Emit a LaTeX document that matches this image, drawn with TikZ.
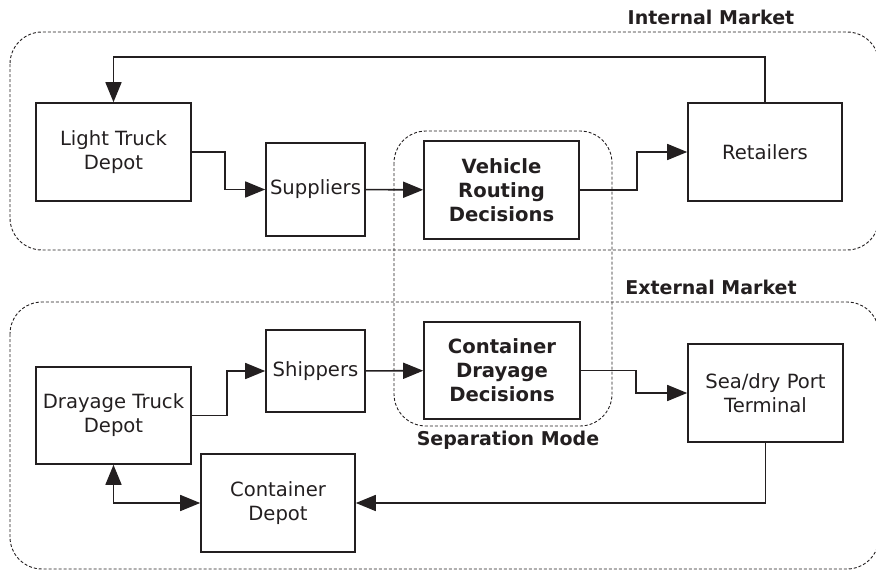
\documentclass[tikz,border=0pt]{standalone}
\usepackage{fontspec}
\setmainfont{DejaVu Sans}
\usetikzlibrary{arrows.meta}
\definecolor{ink}{HTML}{231F20}

\begin{document}
\begin{tikzpicture}[x=1pt,y=-1pt,
    box/.style={draw=ink,line width=1.6pt,align=center,text=ink,inner sep=0pt,
      font=\fontsize{19.6}{24}\selectfont},
    decision/.style={box,font=\fontsize{19.6}{24}\selectfont\bfseries},
    area/.style={draw=ink,line width=0.9pt,dash pattern=on 3pt off 2pt,rounded corners=32pt},
    arealabel/.style={text=ink,font=\fontsize{19}{22}\selectfont\bfseries},
    flow/.style={draw=ink,line width=1.6pt,-{Triangle[length=20pt,width=16pt]}}]
  \useasboundingbox (0,0) rectangle (876,571);

  % market areas and the separation mode
  \draw[area] (10,32) rectangle (879,250);
  \draw[area] (10,302) rectangle (879,569);
  \draw[area] (394,131) rectangle (612,426);
  \node[arealabel] (internal) at (711,17) {Internal Market};
  \node[arealabel] (external) at (711,287) {External Market};
  \node[arealabel] (separation) at (508,440) {Separation Mode};

  % internal market
  \node[box,minimum width=155pt,minimum height=98pt] (lightdepot) at (113.5,152) {Light Truck\\Depot};
  \node[box,minimum width=99pt,minimum height=93pt] (suppliers) at (315.5,189.5) {Suppliers};
  \node[decision,minimum width=155pt,minimum height=98pt] (routing) at (501.5,190) {Vehicle\\Routing\\Decisions};
  \node[box,minimum width=154pt,minimum height=98pt] (retailers) at (765,152) {Retailers};

  % external market
  \node[box,minimum width=155pt,minimum height=97pt] (drayagedepot) at (113.5,415.5) {Drayage Truck\\Depot};
  \node[box,minimum width=99pt,minimum height=82pt] (shippers) at (315.5,371) {Shippers};
  \node[decision,minimum width=156pt,minimum height=97pt] (drayage) at (502,370.5) {Container\\Drayage\\Decisions};
  \node[box,minimum width=155pt,minimum height=98pt] (terminal) at (765.5,393) {Sea/dry Port\\Terminal};
  \node[box,minimum width=154pt,minimum height=98pt] (containerdepot) at (278,503) {Container\\Depot};

  \draw[flow] (lightdepot.east) -- ++(33,0) |- (suppliers.west);
  \draw[flow] (suppliers) -- (routing);
  \draw[flow] (routing.east) -- ++(57,0) |- (retailers.west);
  \draw[flow] (retailers.north) -- ++(0,-45) -| (lightdepot.north);

  \draw[flow] (drayagedepot.east) -- ++(35,0) |- (shippers.west);
  \draw[flow] (shippers) -- (drayage);
  \draw[flow] (drayage.east) -- ++(55,0) |- (terminal.west);
  \draw[flow] (terminal.south) |- (containerdepot.east);
  \draw[flow,{Triangle[length=20pt,width=16pt]}-{Triangle[length=20pt,width=16pt]}] (drayagedepot.south) |- (containerdepot.west);
\end{tikzpicture}
\end{document}
